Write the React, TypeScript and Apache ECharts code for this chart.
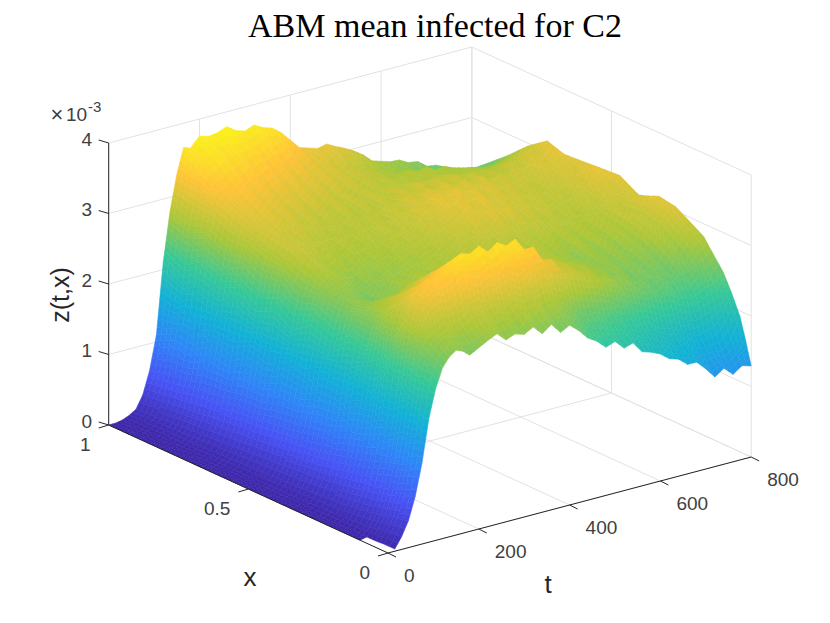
import React, { useEffect, useRef } from "react";
import * as echarts from "echarts";

const TITLE = "ABM mean infected for C2";
const T_TICKS = [0, 200, 400, 600, 800];
const X_TICKS = [0, 0.5, 1];
const Z_TICKS = [0, 1, 2, 3, 4];

const T_GRID = [0, 15, 30, 45, 60, 75, 90, 105, 120, 135, 150, 165, 180,
  200, 220, 240, 260, 280, 300, 320, 340, 360, 380,
  400, 420, 440, 460, 480, 500, 520, 540, 560, 580,
  600, 620, 640, 660, 680, 700, 720, 740, 760, 780, 800];
const X_GRID = [0, 0.02, 0.04, 0.07, 0.1, 0.13, 0.17, 0.22, 0.27, 0.33, 0.4, 0.47, 0.54, 0.6, 0.67, 0.73, 0.8, 0.87, 0.93, 1];

// z(t,x) in units of 1e-3, one array per x row
const zx000 = [null, .03, .18, .38, .70, 1.15, 1.75, 2.15, 2.42, 2.55, 2.62, 2.58, 2.50,
  2.57, 2.64, 2.70, 2.58, 2.63, 2.59, 2.66, 2.53, 2.63, 2.48, 2.55, 2.44, 2.30, 2.22, 2.10, 2.15, 2.02, 2.06, 1.90, 1.86,
  1.80, 1.70, 1.66, 1.55, 1.55, 1.42, 1.27, 1.36, 1.24, 1.33, 1.29];
const zx002 = [null, .03, .17, .36, .66, 1.12, 1.72, 2.2, 2.48, 2.6, 2.66, 2.64, 2.6,
  2.62, 2.7, 2.74, 2.66, 2.69, 2.62, 2.72, 2.62, 2.66, 2.56, 2.58, 2.5, 2.38, 2.28, 2.2, 2.2, 2.1, 2.12, 1.96, 1.94,
  1.86, 1.82, 1.7, 1.68, 1.62, 1.52, 1.38, 1.42, 1.36, 1.46, 1.62];
const zx004 = [null, .03, .16, .34, .63, 1.07, 1.62, 2.24, 2.52, 2.68, 2.74, 2.72, 2.68,
  2.7, 2.76, 2.82, 2.72, 2.78, 2.68, 2.8, 2.68, 2.76, 2.62, 2.68, 2.56, 2.48, 2.34, 2.3, 2.26, 2.2, 2.16, 2.08, 2.0,
  1.96, 1.88, 1.82, 1.72, 1.72, 1.6, 1.5, 1.52, 1.5, 1.62, 1.92];
const zx007 = [null, .02, .14, .31, .58, 1.0, 1.58, 2.2, 2.6, 2.72, 2.76, 2.84, 2.8,
  2.82, 2.92, 2.95, 2.88, 2.9, 2.84, 2.92, 2.84, 2.88, 2.74, 2.8, 2.7, 2.62, 2.5, 2.42, 2.44, 2.34, 2.34, 2.2, 2.2,
  2.08, 2.08, 1.96, 1.94, 1.88, 1.8, 1.72, 1.74, 1.78, 1.92, 2.2];
const zx010 = [0, .02, .12, .28, .54, .96, 1.56, 2.28, 2.8, 3.12, 3.22, 3.3, 3.26,
  3.3, 3.44, 3.4, 3.38, 3.46, 3.34, 3.44, 3.34, 3.4, 3.24, 3.26, 3.1, 3.06, 2.92, 2.88, 2.82, 2.8, 2.7, 2.66, 2.56,
  2.52, 2.44, 2.42, 2.32, 2.34, 2.24, 2.2, 2.2, 2.28, 2.3, 2.44];
const zx013 = [0, .02, .1, .25, .5, .92, 1.46, 2.14, 2.82, 3.14, 3.27, 3.36, 3.36,
  3.44, 3.54, 3.6, 3.56, 3.64, 3.52, 3.62, 3.54, 3.6, 3.42, 3.42, 3.2, 3.18, 3.0, 2.98, 2.88, 2.86, 2.76, 2.74, 2.64,
  2.66, 2.52, 2.54, 2.42, 2.5, 2.38, 2.4, 2.36, 2.48, 2.46, 2.6];
const zx017 = [0, .02, .09, .23, .46, .86, 1.42, 2.16, 2.54, 2.9, 3.12, 3.18, 3.2,
  3.26, 3.36, 3.3, 3.34, 3.28, 3.38, 3.26, 3.36, 3.26, 3.28, 3.12, 3.14, 2.96, 3.06, 2.84, 2.94, 2.74, 2.84, 2.62, 2.72,
  2.56, 2.66, 2.46, 2.58, 2.48, 2.56, 2.42, 2.62, 2.52, 2.72, 2.82];
const zx022 = [0, .01, .08, .2, .42, .8, 1.3, 1.86, 2.52, 2.82, 2.92, 3.0, 3.02,
  3.0, 3.16, 3.08, 3.18, 3.06, 3.2, 3.06, 3.18, 3.02, 3.12, 2.94, 3.04, 2.84, 2.94, 2.76, 2.9, 2.7, 2.8, 2.6, 2.72,
  2.52, 2.7, 2.48, 2.66, 2.54, 2.66, 2.54, 2.76, 2.68, 2.9, 2.94];
const zx027 = [0, .01, .07, .18, .38, .74, 1.25, 1.88, 2.22, 2.54, 2.76, 2.84, 2.82,
  2.78, 2.96, 2.86, 2.98, 2.9, 3.0, 2.86, 3.02, 2.88, 2.96, 2.8, 2.94, 2.74, 2.88, 2.7, 2.88, 2.66, 2.8, 2.58, 2.7,
  2.54, 2.74, 2.52, 2.72, 2.6, 2.74, 2.64, 2.86, 2.8, 3.04, 3.06];
const zx033 = [0, .01, .06, .16, .34, .68, 1.12, 1.64, 2.28, 2.56, 2.62, 2.68, 2.62,
  2.54, 2.72, 2.62, 2.82, 2.7, 2.84, 2.72, 2.88, 2.74, 2.86, 2.74, 2.88, 2.76, 2.86, 2.72, 2.9, 2.68, 2.86, 2.64, 2.78,
  2.62, 2.82, 2.6, 2.8, 2.68, 2.8, 2.72, 2.94, 2.88, 3.08, 3.1];
const zx040 = [0, .01, .05, .14, .31, .62, 1.08, 1.68, 2.04, 2.4, 2.6, 2.62, 2.58,
  2.46, 2.64, 2.52, 2.74, 2.58, 2.78, 2.66, 2.8, 2.7, 2.84, 2.72, 2.92, 2.74, 2.94, 2.8, 2.94, 2.82, 2.92, 2.78, 2.9,
  2.76, 2.88, 2.74, 2.86, 2.72, 2.86, 2.76, 2.96, 2.84, 3.04, 2.98];
const zx047 = [0, .01, .05, .13, .28, .58, 1.0, 1.48, 2.16, 2.52, 2.64, 2.68, 2.72,
  2.7, 2.56, 2.74, 2.6, 2.74, 2.64, 2.78, 2.68, 2.86, 2.74, 2.92, 2.8, 3.0, 2.88, 3.1, 2.92, 3.14, 2.92, 3.1, 2.88,
  3.02, 2.82, 2.98, 2.78, 2.92, 2.76, 2.96, 2.84, 3.08, 2.96, 3.14];
const zx054 = [0, .01, .04, .12, .26, .54, .97, 1.56, 1.98, 2.44, 2.72, 2.9, 2.82,
  2.72, 2.84, 2.66, 2.8, 2.68, 2.82, 2.7, 2.88, 2.76, 2.94, 2.82, 3.02, 2.9, 3.1, 3.0, 3.18, 2.98, 3.18, 2.96, 3.1,
  2.92, 3.04, 2.86, 2.98, 2.82, 2.96, 2.82, 3.04, 2.94, 3.18, 3.12];
const zx060 = [0, .01, .04, .11, .24, .5, .9, 1.4, 2.14, 2.62, 2.8, 2.98, 2.92,
  2.92, 2.78, 2.9, 2.72, 2.9, 2.72, 2.9, 2.76, 2.96, 2.8, 2.98, 2.88, 3.08, 2.98, 3.2, 3.02, 3.2, 3.0, 3.14, 2.94,
  3.12, 2.92, 3.04, 2.86, 3.0, 2.82, 3.0, 2.9, 3.08, 2.96, 3.1];
const zx067 = [0, .01, .04, .1, .22, .47, .88, 1.48, 2.0, 2.56, 2.88, 3.02, 2.96,
  2.9, 3.02, 2.82, 2.96, 2.78, 2.92, 2.78, 2.94, 2.78, 2.94, 2.8, 3.0, 2.86, 3.08, 2.92, 3.1, 2.92, 3.12, 2.92, 3.1,
  2.94, 3.08, 2.9, 3.04, 2.9, 3.02, 2.9, 3.1, 2.98, 3.18, 3.08];
const zx073 = [0, .01, .03, .09, .2, .44, .82, 1.3, 2.16, 2.72, 2.95, 3.04, 3.03,
  3.1, 2.96, 3.06, 2.86, 3.0, 2.82, 2.96, 2.8, 2.96, 2.76, 2.96, 2.78, 2.98, 2.82, 3.02, 2.84, 3.04, 2.86, 3.04, 2.84,
  3.02, 2.84, 2.98, 2.8, 2.94, 2.82, 3.0, 2.88, 3.08, 2.98, 3.16];
const zx080 = [0, .01, .03, .08, .18, .4, .8, 1.38, 2.0, 2.66, 3.05, 3.14, 3.14,
  3.24, 3.08, 3.18, 3.0, 3.12, 2.94, 3.08, 2.9, 3.02, 2.86, 2.98, 2.82, 2.96, 2.8, 2.92, 2.8, 2.9, 2.76, 2.86, 2.74,
  2.88, 2.72, 2.82, 2.7, 2.84, 2.68, 2.8, 2.72, 2.86, 2.82, 2.96];
const zx087 = [0, .01, .03, .08, .16, .37, .72, 1.2, 2.1, 2.82, 3.18, 3.3, 3.3,
  3.42, 3.26, 3.38, 3.2, 3.3, 3.14, 3.24, 3.06, 3.18, 3.0, 3.1, 2.94, 3.04, 2.88, 2.98, 2.82, 2.9, 2.8, 2.82, 2.86,
  2.8, 2.84, 2.76, 2.78, 2.72, 2.68, 2.66, 2.6, 2.62, 2.58, 2.7];
const zx093 = [0, 0, .02, .07, .14, .33, .68, 1.24, 1.92, 2.72, 3.28, 3.48, 3.52,
  3.64, 3.5, 3.58, 3.42, 3.5, 3.34, 3.42, 3.24, 3.34, 3.14, 3.2, 3.02, 3.1, 2.92, 3.0, 2.82, 2.9, 2.72, 2.8, 2.6,
  2.72, 2.54, 2.64, 2.46, 2.56, 2.4, 2.5, 2.34, 2.48, 2.34, 2.5];
const zx100 = [0, 0, .02, .06, .12, .3, .62, 1.1, 2.1, 2.8, 3.3, 3.66, 3.62,
  3.76, 3.72, 3.74, 3.79, 3.7, 3.66, 3.71, 3.64, 3.6, 3.5, 3.36, 3.22, 3.18, 3.14, 3.17, 3.1, 3.04, 2.97, 2.88, 2.76,
  2.72, 2.68, 2.67, 2.6, 2.58, 2.48, 2.46, 2.4, 2.35, 2.3, 2.27];
const Z_ROWS: (number | null)[][] = [zx000, zx002, zx004, zx007, zx010, zx013, zx017, zx022, zx027, zx033, zx040, zx047, zx054, zx060, zx067, zx073, zx080, zx087, zx093, zx100];

const PARULA = [[0.2422, 0.1504, 0.6603], [0.281, 0.3228, 0.9579], [0.1786, 0.5289, 0.9682], [0.0689, 0.6948, 0.8394], [0.2161, 0.7843, 0.5923], [0.672, 0.7793, 0.2227], [0.997, 0.7659, 0.2199], [0.9769, 0.9839, 0.0805]];
const C_MAX = 3.85;

function colorOf(z: number) {
  const v = Math.max(0, Math.min(0.9999, z / C_MAX)) * (PARULA.length - 1);
  const i = Math.floor(v), f = v - i;
  const c = PARULA[i].map((a, k) => Math.round((a + (PARULA[i + 1][k] - a) * f) * 255));
  return `rgb(${c[0]},${c[1]},${c[2]})`;
}

function project(t: number, x: number, z: number): [number, number] {
  return [388 + (t * 363.2) / 800 - x * 279.3, 553 - (t * 96) / 800 - x * 128 - z * 70.5];
}

const GRID_COLOR = "#e2e2e2";
const AXIS_COLOR = "#262626";
const TEXT_COLOR = "#404040";

type Seg = { a: [number, number, number]; b: [number, number, number]; c: string };

function boxSegments(): Seg[] {
  const s: Seg[] = [];
  const g = GRID_COLOR;
  Z_TICKS.forEach((z) => {
    s.push({ a: [0, 1, z], b: [800, 1, z], c: g });
    s.push({ a: [800, 1, z], b: [800, 0, z], c: g });
  });
  T_TICKS.forEach((t) => {
    s.push({ a: [t, 1, 0], b: [t, 1, 4], c: g });
    s.push({ a: [t, 0, 0], b: [t, 1, 0], c: g });
  });
  X_TICKS.forEach((x) => {
    s.push({ a: [800, x, 0], b: [800, x, 4], c: g });
    s.push({ a: [0, x, 0], b: [800, x, 0], c: g });
  });
  return s;
}

function axisLines(): { p: [number, number]; q: [number, number] }[] {
  const out: { p: [number, number]; q: [number, number] }[] = [];
  out.push({ p: project(0, 1, 0), q: project(0, 1, 4) });
  out.push({ p: project(0, 1, 0), q: project(0, 0, 0) });
  out.push({ p: project(0, 0, 0), q: project(800, 0, 0) });
  Z_TICKS.forEach((z) => {
    const p = project(0, 1, z);
    out.push({ p, q: [p[0] - 10, p[1] - 3] });
  });
  X_TICKS.forEach((x) => {
    const p = project(0, x, 0);
    out.push({ p, q: [p[0] - 10, p[1] + 3] });
  });
  T_TICKS.forEach((t) => {
    const p = project(t, 0, 0);
    out.push({ p, q: [p[0] + 8, p[1] + 4] });
  });
  return out;
}

function surfaceCells(): number[][] {
  const cells: number[][] = [];
  for (let r = X_GRID.length - 2; r >= 0; r--) {
    for (let c = T_GRID.length - 2; c >= 0; c--) cells.push([r, c]);
  }
  return cells;
}

function renderCell(_p: any, api: any) {
  const r = api.value(0), c = api.value(1);
  const z00 = Z_ROWS[r][c], z01 = Z_ROWS[r][c + 1], z10 = Z_ROWS[r + 1][c], z11 = Z_ROWS[r + 1][c + 1];
  if (z00 == null || z01 == null || z10 == null || z11 == null) return { type: "group", children: [] };
  const t0 = T_GRID[c], t1 = T_GRID[c + 1], x0 = X_GRID[r], x1 = X_GRID[r + 1];
  const dz = Math.max(Math.abs(z01 - z00), Math.abs(z11 - z10));
  const dx = Math.max(Math.abs(z10 - z00), Math.abs(z11 - z01));
  const nt = Math.max(2, Math.ceil(dz / 0.1));
  const nx = Math.max(1, Math.ceil(((x1 - x0) * 279) / 6), Math.ceil(dx / 0.1));
  const zAt = (a: number, b: number) => (z00 * (1 - a) + z01 * a) * (1 - b) + (z10 * (1 - a) + z11 * a) * b;
  const pt = (a: number, b: number) => api.coord(project(t0 + (t1 - t0) * a, x0 + (x1 - x0) * b, zAt(a, b)));
  const children: any[] = [];
  for (let j = nx - 1; j >= 0; j--) {
    for (let i = nt - 1; i >= 0; i--) {
      const a0 = i / nt, a1 = (i + 1) / nt, b0 = j / nx, b1 = (j + 1) / nx;
      const col = colorOf(zAt((a0 + a1) / 2, (b0 + b1) / 2));
      children.push({
        type: "polygon",
        silent: true,
        shape: { points: [pt(a0, b0), pt(a1, b0), pt(a1, b1), pt(a0, b1)] },
        style: { fill: col, stroke: col, lineWidth: 0.5 },
      });
    }
  }
  return { type: "group", children };
}

function label(text: string, x: number, y: number, size: number, align: string, fill = TEXT_COLOR, extra: any = {}) {
  return {
    type: "text",
    x,
    y,
    silent: true,
    style: { text, fill, font: `${size}px "Liberation Sans", Arial, sans-serif`, textAlign: align, textVerticalAlign: "middle" },
    ...extra,
  };
}

function textElements() {
  const els: any[] = [];
  Z_TICKS.forEach((z) => {
    const p = project(0, 1, z);
    els.push(label(String(z), 92, p[1] - 4, 19, "right"));
  });
  X_TICKS.forEach((x) => {
    const p = project(0, x, 0);
    els.push(label(String(x), p[0] - 18, p[1] + 19, 19, "right"));
  });
  T_TICKS.forEach((t) => {
    const p = project(t, 0, 0);
    els.push(label(String(t), p[0] + 16, p[1] + 22, 19, "left"));
  });
  els.push(label("×", 57, 114, 22, "center"));
  els.push(label("10", 66, 114, 19, "left"));
  els.push(label("-3", 88, 106, 15, "left"));
  els.push(label("x", 250, 577, 26, "center", "#262626"));
  els.push(label("t", 548, 584, 26, "center", "#262626"));
  els.push(label("z(t,x)", 60, 295, 25, "center", "#262626", { rotation: Math.PI / 2 }));
  return els;
}

export default function App() {
  const ref = useRef<HTMLDivElement>(null);
  useEffect(() => {
    const chart = echarts.init(ref.current!, undefined, { renderer: "svg" });
    const segs = boxSegments();
    const axes = axisLines();
    chart.setOption({
      animation: false,
      backgroundColor: "#ffffff",
      title: {
        text: TITLE,
        left: 243,
        top: 3,
        textStyle: { fontFamily: '"Liberation Serif", serif', fontSize: 34, fontWeight: "normal", color: "#000" },
      },
      grid: { left: 0, right: 0, top: 0, bottom: 0 },
      xAxis: { type: "value", min: 0, max: 830, show: false },
      yAxis: { type: "value", min: 0, max: 623, inverse: true, show: false },
      graphic: { elements: textElements() },
      series: [
        {
          type: "custom",
          z: 1,
          silent: true,
          clip: false,
          progressive: 0,
          data: segs.map((_, i) => [i, 0]),
          encode: { x: 0, y: 1 },
          renderItem: (_p: any, api: any) => {
            const s = segs[api.value(0)];
            const a = api.coord(project(s.a[0], s.a[1], s.a[2]));
            const b = api.coord(project(s.b[0], s.b[1], s.b[2]));
            return { type: "line", shape: { x1: a[0], y1: a[1], x2: b[0], y2: b[1] }, style: { stroke: s.c, lineWidth: 1 } };
          },
        },
        {
          type: "custom",
          z: 2,
          silent: true,
          clip: false,
          progressive: 0,
          data: surfaceCells(),
          encode: { x: 0, y: 1 },
          renderItem: renderCell,
        },
        {
          type: "custom",
          z: 3,
          silent: true,
          clip: false,
          progressive: 0,
          data: axes.map((_, i) => [i, 0]),
          encode: { x: 0, y: 1 },
          renderItem: (_p: any, api: any) => {
            const s = axes[api.value(0)];
            const a = api.coord(s.p);
            const b = api.coord(s.q);
            return { type: "line", shape: { x1: a[0], y1: a[1], x2: b[0], y2: b[1] }, style: { stroke: AXIS_COLOR, lineWidth: 1 } };
          },
        },
      ],
    });
    return () => chart.dispose();
  }, []);
  return <div ref={ref} style={{ position: "absolute", left: 0, top: 0, width: 830, height: 623 }} />;
}
